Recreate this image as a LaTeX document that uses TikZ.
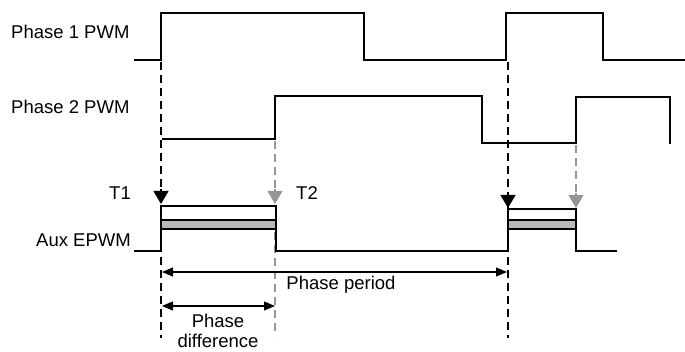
\documentclass[tikz,border=0pt]{standalone}
\usepackage{fontspec}
\setmainfont{Liberation Sans}
\usetikzlibrary{arrows.meta}
\definecolor{dgray}{RGB}{150,150,150}
\definecolor{bargray}{RGB}{185,185,185}
\begin{document}
\begin{tikzpicture}[x=1pt,y=-1pt,
  sig/.style={line width=2.5pt, line join=miter},
  guide/.style={line width=1.1pt, dash pattern=on 8pt off 5pt},
  guidegray/.style={guide, draw=dgray},
  dim/.style={line width=1.2pt, {Triangle[length=11pt,width=9pt]}-{Triangle[length=11pt,width=9pt]}},
  marker/.style={line width=1.1pt, -{Triangle[length=13pt,width=15pt]}},
  lbl/.style={font=\fontsize{18.5}{21}\selectfont, inner sep=0pt},
  bar/.style={line width=2.2pt, fill=white},
  grayfill/.style={line width=2.2pt, fill=bargray}]
\useasboundingbox (0,0) rectangle (685,352);
% labels
\node[lbl, anchor=west] (l1) at (11,32) {Phase 1 PWM};
\node[lbl, anchor=west] (l2) at (11,107) {Phase 2 PWM};
\node[lbl, anchor=east] (lt1) at (131,193) {T1};
\node[lbl, anchor=west] (lt2) at (296,193) {T2};
\node[lbl, anchor=east] (la) at (131,240) {Aux EPWM};
\node[lbl] (lpp) at (341,285) {Phase period};
\node[lbl, align=center] (lpd) at (218,331) {Phase\\[-1pt]difference};
% guides
\coordinate (g1t) at (161,62);  \coordinate (g1b) at (161,338);
\coordinate (g2t) at (275,141); \coordinate (g2b) at (275,336);
\coordinate (g3t) at (508,62);  \coordinate (g3b) at (508,338);
\coordinate (g4t) at (576,145); \coordinate (g4b) at (576,195);
\draw[guide] (g1t) -- (g1b);
\draw[guidegray] (g2t) -- (g2b);
\draw[guide] (g3t) -- (g3b);
\draw[guidegray] (g4t) -- (g4b);
% Phase 1 PWM
\draw[sig] (134,60) -- (161,60) -- (161,13) -- (364,13) -- (364,60) -- (506,60) -- (506,13) -- (603,13) -- (603,60) -- (685,60);
% Phase 2 PWM
\draw[sig] (162,139) -- (275,139) -- (275,96) -- (482,96) -- (482,143) -- (576,143) -- (576,97) -- (670,97) -- (670,144);
% Aux EPWM
\draw[sig] (134,251) -- (161,251) -- (161,229);
\draw[sig] (276,229) -- (276,251) -- (508,251) -- (508,229);
\draw[sig] (576,229) -- (576,251) -- (617,251);
\draw[bar] (161,206) rectangle (276,220);
\draw[grayfill] (161,220) rectangle (276,229);
\draw[bar] (508,209) rectangle (576,220);
\draw[grayfill] (508,220) rectangle (576,229);
% markers
\coordinate (m1a) at (161,189); \coordinate (m1b) at (161,204);
\coordinate (m2a) at (275,189); \coordinate (m2b) at (275,204);
\coordinate (m3a) at (508,193); \coordinate (m3b) at (508,208);
\coordinate (m4a) at (576,193); \coordinate (m4b) at (576,208);
\draw[marker] (m1a) -- (m1b);
\draw[marker, draw=dgray, fill=dgray] (m2a) -- (m2b);
\draw[marker] (m3a) -- (m3b);
\draw[marker, draw=dgray, fill=dgray] (m4a) -- (m4b);
% dimension arrows
\coordinate (pp1) at (162,272); \coordinate (pp2) at (507,272);
\coordinate (pd1) at (162,306); \coordinate (pd2) at (275,306);
\draw[dim] (pp1) -- (pp2);
\draw[dim] (pd1) -- (pd2);
\end{tikzpicture}
\end{document}
